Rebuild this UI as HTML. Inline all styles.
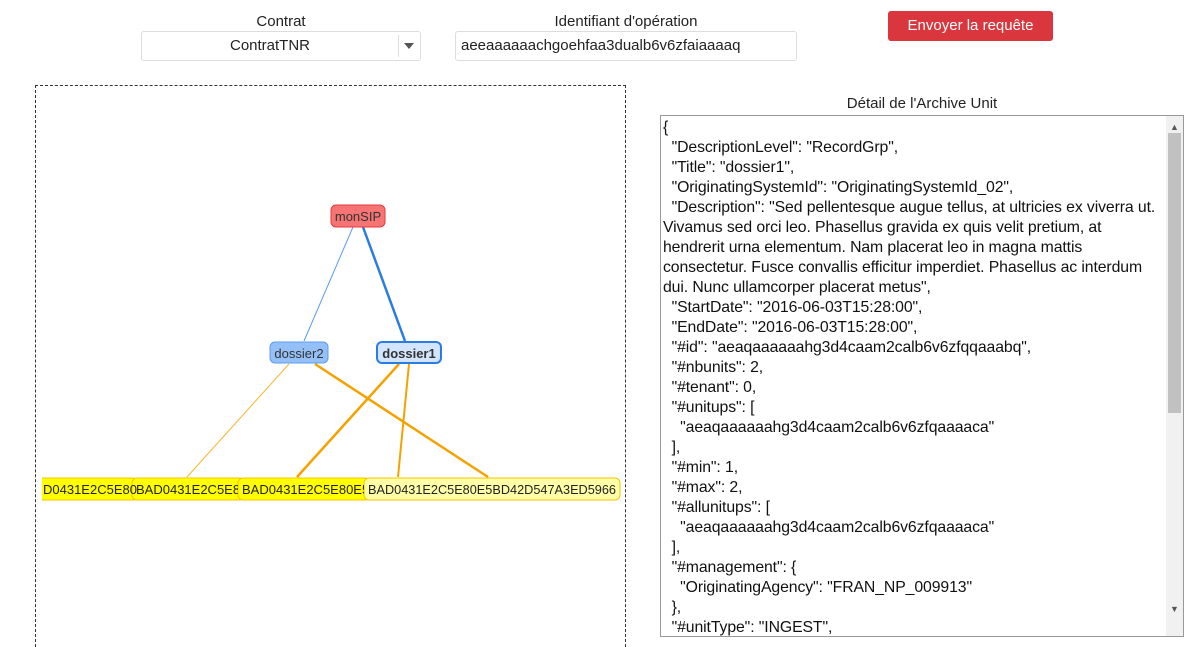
<!DOCTYPE html>
<html style="overflow:hidden;height:647px"><head><meta charset="utf-8"><style>
body{margin:0;width:1202px;height:647px;overflow:hidden;background:#fff;font-family:"Liberation Sans",sans-serif;color:#222;position:relative}
.abs{position:absolute}
.lbl{font-size:15px;text-align:center}
.sel{left:141px;top:31px;width:280px;height:30px;border:1px solid #ddd;border-radius:3px;box-sizing:border-box;font-size:15px}
.inp{left:455px;top:31px;width:342px;height:30px;border:1px solid #ddd;border-radius:3px;box-sizing:border-box;font-size:15px;line-height:28px;padding-left:5px}
.btn{left:888px;top:11px;width:165px;height:30px;background:#d9363e;border-radius:3px;color:#fff;font-size:15px;line-height:30px;text-align:center}
.ta{left:660px;top:115px;width:524px;height:522px;border:1px solid #999;box-sizing:border-box;overflow:hidden}
.txt{position:absolute;left:2px;top:2px;font-size:15.8px;line-height:20px;white-space:pre;color:#111;letter-spacing:-0.1px}
</style></head><body>
<div class="abs lbl" style="left:141px;top:13px;width:280px">Contrat</div>
<div class="abs sel"><div class="abs" style="left:0;top:0;width:256px;line-height:28px;text-align:center">ContratTNR</div><div class="abs" style="left:256px;top:3px;width:1px;height:22px;background:#ddd"></div><div class="abs" style="left:262px;top:11px;width:0;height:0;border-left:5px solid transparent;border-right:5px solid transparent;border-top:6px solid #555"></div></div>
<div class="abs lbl" style="left:455px;top:13px;width:342px">Identifiant d'opération</div>
<div class="abs inp">aeeaaaaaachgoehfaa3dualb6v6zfaiaaaaq</div>
<div class="abs btn">Envoyer la requête</div>

<div class="abs" style="left:35px;top:85px;width:591px;height:562px;border:1px dashed #333;border-bottom:none;box-sizing:border-box"></div>
<svg class="abs" style="left:0;top:0" width="640" height="647">
<line x1="353" y1="227" x2="304" y2="341" stroke="#5a9cf0" stroke-width="1"/>
<line x1="363" y1="227" x2="405" y2="341" stroke="#2b7be4" stroke-width="2.5"/>
<line x1="289" y1="364" x2="187" y2="477" stroke="#f6b530" stroke-width="1"/>
<line x1="315" y1="364" x2="488" y2="477" stroke="#f5a200" stroke-width="2.5"/>
<line x1="399" y1="364" x2="297" y2="477" stroke="#f5a200" stroke-width="2.5"/>
<line x1="409" y1="364" x2="398" y2="477" stroke="#f5a200" stroke-width="2"/>
<rect x="331" y="205" width="54" height="22" rx="5" fill="#f77474" stroke="#e53a3a"/>
<text x="358" y="221" font-size="13" text-anchor="middle" fill="#333" font-family="Liberation Sans">monSIP</text>
<rect x="270" y="342" width="58" height="21" rx="5" fill="#94c0f7" stroke="#5a9cf0"/>
<text x="299" y="358" font-size="13" text-anchor="middle" fill="#333" font-family="Liberation Sans">dossier2</text>
<rect x="377" y="342" width="64" height="21" rx="5" fill="#d2e5fd" stroke="#2b7be4" stroke-width="2"/>
<text x="409" y="358" font-size="13" font-weight="bold" text-anchor="middle" fill="#333" font-family="Liberation Sans">dossier1</text>
<clipPath id="c"><rect x="42" y="470" width="580" height="40"/></clipPath>
<g clip-path="url(#c)" font-family="Liberation Sans" font-size="13" fill="#222">
<rect x="20" y="478" width="118" height="22" rx="5" fill="#ffff00" stroke="#f5c400"/>
<rect x="132" y="478" width="112" height="22" rx="5" fill="#ffff00" stroke="#f5c400"/>
<rect x="238" y="478" width="132" height="22" rx="5" fill="#ffff00" stroke="#f5c400"/>
<rect x="364" y="478" width="256" height="22" rx="5" fill="#ffffa8" stroke="#f5c400"/>
<text x="43" y="494">D0431E2C5E80</text>
<clipPath id="c2"><rect x="132" y="470" width="106" height="40"/></clipPath>
<text x="136" y="494" clip-path="url(#c2)">BAD0431E2C5E80</text>
<clipPath id="c3"><rect x="238" y="470" width="126" height="40"/></clipPath>
<text x="242" y="494" clip-path="url(#c3)">BAD0431E2C5E80E5</text>
<text x="368" y="494" textLength="248" lengthAdjust="spacingAndGlyphs">BAD0431E2C5E80E5BD42D547A3ED5966</text>
</g>
</svg>

<div class="abs lbl" style="left:660px;top:95px;width:524px">Détail de l'Archive Unit</div>
<div class="abs ta">
<div class="txt">{
  "DescriptionLevel": "RecordGrp",
  "Title": "dossier1",
  "OriginatingSystemId": "OriginatingSystemId_02",
  "Description": "Sed pellentesque augue tellus, at ultricies ex viverra ut.
Vivamus sed orci leo. Phasellus gravida ex quis velit pretium, at
hendrerit urna elementum. Nam placerat leo in magna mattis
consectetur. Fusce convallis efficitur imperdiet. Phasellus ac interdum
dui. Nunc ullamcorper placerat metus",
  "StartDate": "2016-06-03T15:28:00",
  "EndDate": "2016-06-03T15:28:00",
  "#id": "aeaqaaaaaahg3d4caam2calb6v6zfqqaaabq",
  "#nbunits": 2,
  "#tenant": 0,
  "#unitups": [
    "aeaqaaaaaahg3d4caam2calb6v6zfqaaaaca"
  ],
  "#min": 1,
  "#max": 2,
  "#allunitups": [
    "aeaqaaaaaahg3d4caam2calb6v6zfqaaaaca"
  ],
  "#management": {
    "OriginatingAgency": "FRAN_NP_009913"
  },
  "#unitType": "INGEST",</div>
<div class="abs" style="left:505px;top:0;width:17px;height:520px;background:#f1f1f1"></div>
<div class="abs" style="left:507px;top:17px;width:13px;height:280px;background:#c1c1c1"></div>
<div class="abs" style="left:509px;top:6px;font-size:9px;color:#555">&#9650;</div>
<div class="abs" style="left:509px;top:488px;font-size:9px;color:#555">&#9660;</div>
</div>
</body></html>
